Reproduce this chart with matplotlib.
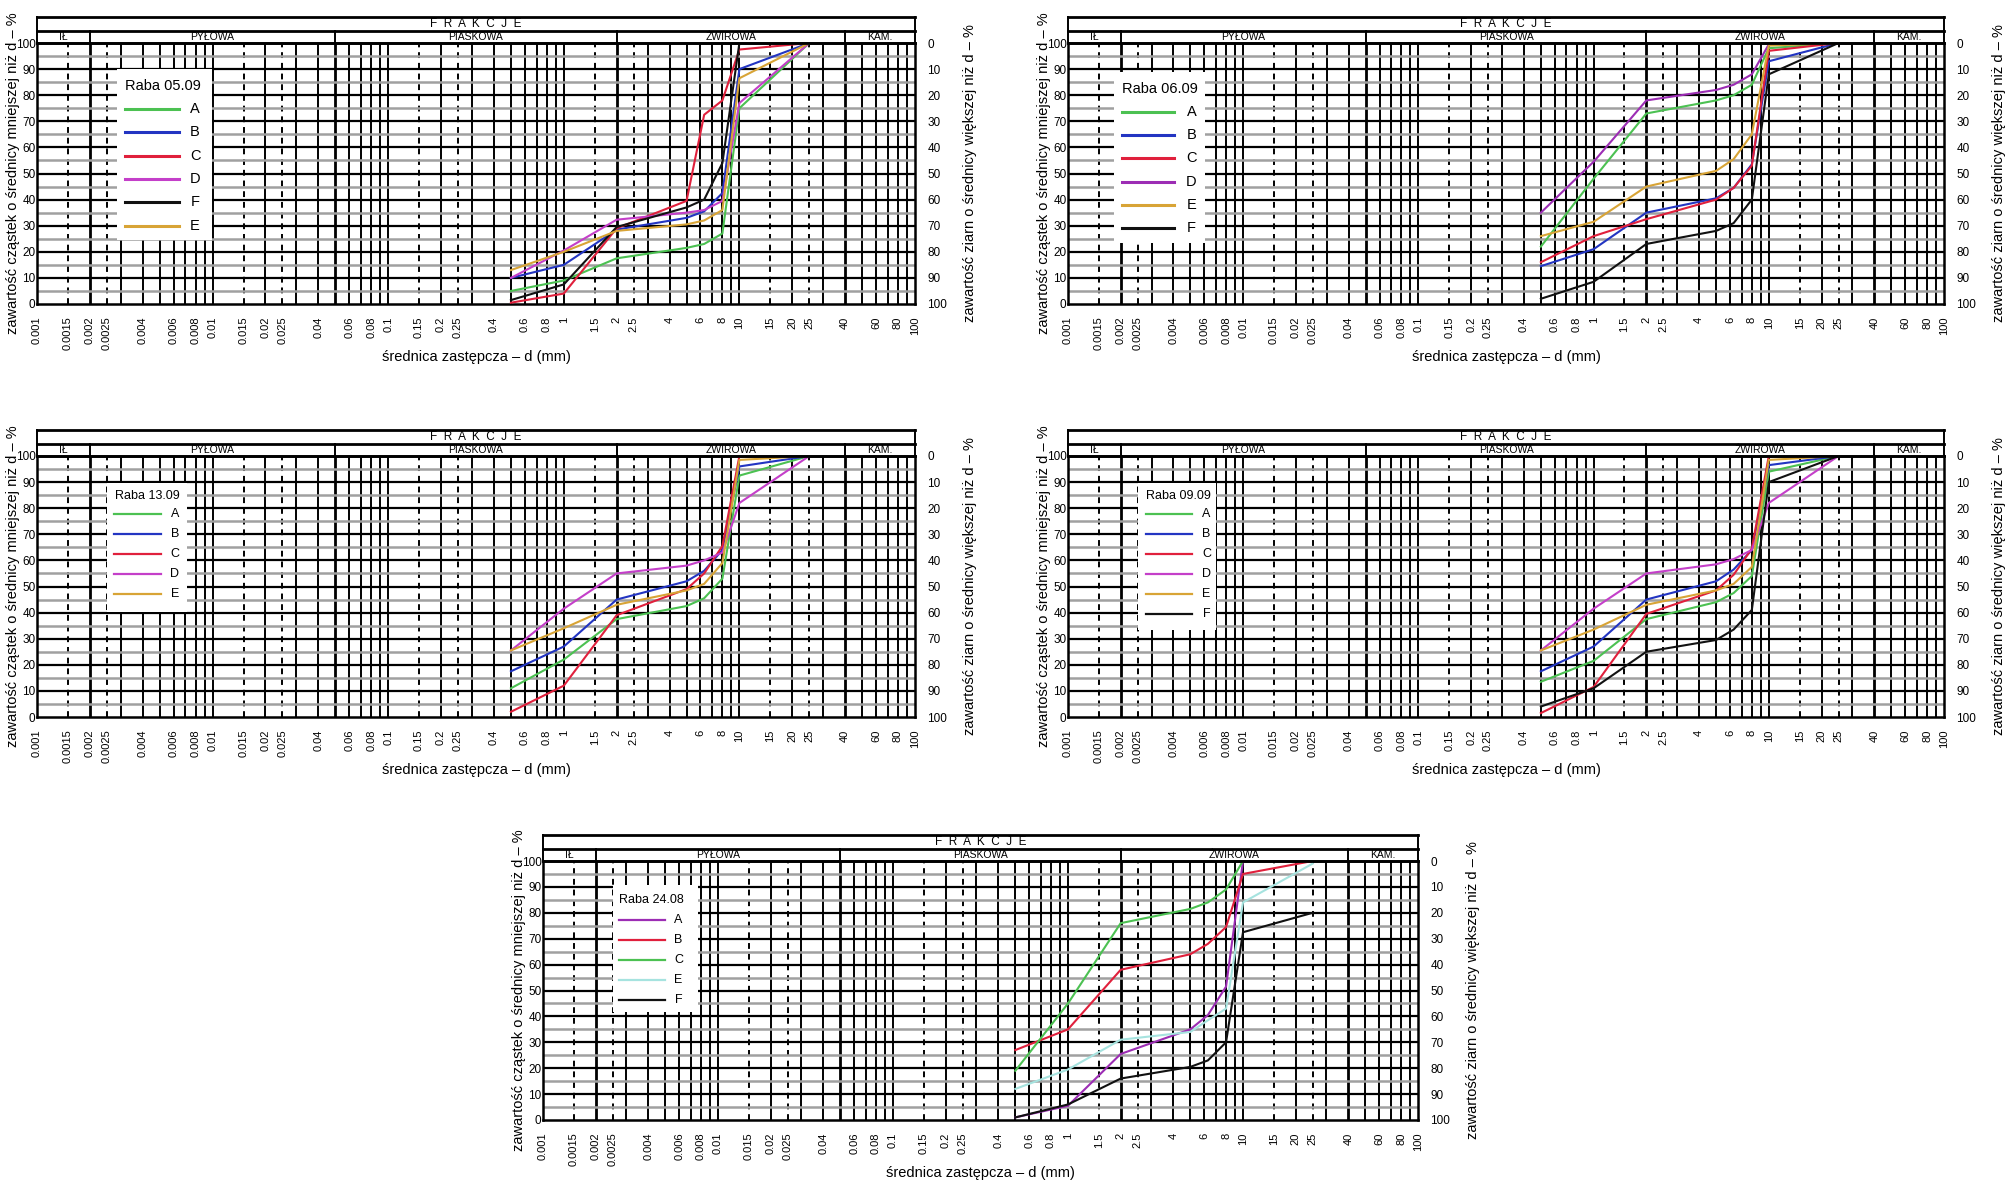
import matplotlib
matplotlib.use('Agg')
import matplotlib.pyplot as plt
from matplotlib.patches import Rectangle
from matplotlib.ticker import NullLocator

plt.rcParams['font.family'] = ['Liberation Sans', 'DejaVu Sans']
TICK_FONT = ['Liberation Sans Narrow', 'Liberation Sans', 'DejaVu Sans']

# sieve sizes (mm) common to all samples
SIEVES = [0.5, 1, 2, 5, 6.3, 8, 10, 25]

# percent passing
raba_0509 = {
    'A': [5, 9, 17.5, 21.5, 23, 27, 75, 100],
    'B': [10, 15, 28.5, 33, 35.5, 42.5, 90, 100],
    'C': [0.5, 4, 29, 39.5, 72.5, 78, 97.5, 100],
    'D': [10, 20.5, 32.3, 35, 36, 39.5, 77, 100],
    'F': [1.5, 7.5, 29.5, 37, 40, 54, 100, 100],
    'E': [13, 20, 28, 30.5, 32, 36, 86.5, 100],
}
raba_0609 = {
    'A': [22, 48, 73, 78, 80, 84, 98, 100],
    'B': [14.5, 21, 35, 40.5, 44.5, 53.5, 93, 100],
    'C': [16, 26, 32.5, 40, 44.5, 53, 97, 100],
    'D': [35, 54.5, 78, 82, 84, 88, 99.5, 100],
    'E': [26, 31.5, 45, 51, 55.5, 65, 99, 100],
    'F': [2, 8.5, 23, 28, 31, 40, 88, 100],
}
raba_1309 = {
    'A': [11, 22, 37.5, 42.5, 45.5, 53, 92.5, 100],
    'B': [17.5, 27, 45, 52, 56, 64, 96, 100],
    'C': [2, 12, 39, 49, 55, 65.5, 100, 100],
    'D': [25.5, 41.5, 55, 58, 60, 63, 82, 100],
    'E': [25.5, 34, 43, 48.5, 51, 59, 98.5, 100],
}
raba_0909 = {
    'A': [13.5, 21.5, 37.5, 44, 47.5, 54, 94, 100],
    'B': [17.5, 27, 45, 52, 56.5, 64, 96.5, 100],
    'C': [1.5, 11.5, 39.5, 48.5, 54.5, 64.5, 100, 100],
    'D': [25.5, 41.5, 55, 58.5, 60.5, 64, 82, 100],
    'E': [25.5, 33.5, 43, 48.5, 51, 57.5, 98.5, 100],
    'F': [4, 11, 25, 29.5, 33.5, 41, 90, 100],
}
raba_2408 = {
    'A': [1, 5.5, 25.5, 35, 40.5, 51.5, 100, 100],
    'B': [27, 35, 58, 64, 68, 74.5, 95, 100],
    'C': [19, 45, 76, 81.5, 84, 89, 100, 100],
    'E': [12, 19.5, 31, 34, 38.5, 43, 84, 99],
    'F': [1, 6, 16, 20.5, 23, 30, 72.5, 80],
}

TICKS = [0.001, 0.0015, 0.002, 0.0025, 0.004, 0.006, 0.008, 0.01, 0.015, 0.02,
         0.025, 0.04, 0.06, 0.08, 0.1, 0.15, 0.2, 0.25, 0.4, 0.6, 0.8, 1, 1.5,
         2, 2.5, 4, 6, 8, 10, 15, 20, 25, 40, 60, 80, 100]
FRACTIONS = [('IŁ', 0.001, 0.002), ('PYŁOWA', 0.002, 0.05),
             ('PIASKOWA', 0.05, 2), ('ŻWIROWA', 2, 40), ('KAM.', 40, 100)]

GREEN, BLUE, RED = '#4cc152', '#2335c2', '#e0203c'
MAGENTA, PURPLE, GOLD = '#c43fc9', '#9c2db4', '#d8a436'
BLACK, CYAN = '#111111', '#a6e3df'

GRID_SOLID = [m * 10.0 ** e for e in range(-3, 2) for m in range(1, 10)]
GRID_DASH = [m * 10.0 ** e for e in range(-3, 2) for m in (1.5, 2.5)]
BOUNDS = [0.002, 0.05, 2, 40]

FIG_W, FIG_H = 2008, 1182
YLAB_L = 'zawartość cząstek o średnicy mniejszej niż d – %'
YLAB_R = 'zawartość ziarn o średnicy większej niż d – %'
XLAB = 'średnica zastępcza – d (mm)'


def px_axes(fig, left, top, width, height):
    return fig.add_axes([left / FIG_W, 1 - (top + height) / FIG_H,
                         width / FIG_W, height / FIG_H])


def draw_header(fig, left, top, width):
    ah = px_axes(fig, left, top - 26, width, 26)
    ah.set_xscale('log')
    ah.set_xlim(0.001, 100)
    ah.set_ylim(0, 26)
    ah.axis('off')
    for y in (0, 12, 26):
        ah.axhline(y, color='k', lw=2.0, clip_on=False)
    for x in (0.001, 100):
        ah.plot([x, x], [0, 26], color='k', lw=1.4, clip_on=False)
    for x in BOUNDS:
        ah.plot([x, x], [0, 12], color='k', lw=1.4)
    ah.text(0.5, 19 / 26, '  '.join('FRAKCJE'), transform=ah.transAxes,
            ha='center', va='center', fontsize=8.5)
    for name, a, b in FRACTIONS:
        ah.text((a * b) ** 0.5, 6, name, ha='center', va='center', fontsize=7.5)


def draw_panel(fig, left, top, width, height, name, data, colors, leg):
    ax = px_axes(fig, left, top, width, height)
    ax.set_xscale('log')
    ax.set_xlim(0.001, 100)
    ax.set_ylim(0, 100)

    for x in GRID_SOLID:
        ax.axvline(x, color='k', lw=2.0 if x in BOUNDS else 1.4, zorder=1)
    for x in GRID_DASH:
        ax.axvline(x, color='k', lw=1.4, ls=(0, (3, 2.5)), zorder=1)
    for y in range(5, 100, 10):
        ax.axhline(y, color='#a0a0a0', lw=1.8, zorder=1)
    for y in range(10, 100, 10):
        ax.axhline(y, color='k', lw=1.6, zorder=1)

    for key, vals in data.items():
        ax.plot(SIEVES, vals, color=colors[key], lw=1.5, zorder=4)

    ax.xaxis.set_minor_locator(NullLocator())
    ax.set_xticks(TICKS)
    ax.set_xticklabels(['{:g}'.format(t) for t in TICKS], rotation=90,
                       family=TICK_FONT, fontsize=8)
    ax.set_yticks(range(0, 101, 10))
    ax.set_yticklabels([str(v) for v in range(0, 101, 10)], family=TICK_FONT,
                       fontsize=8.5)
    ax.tick_params(axis='x', length=0, pad=9)
    ax.tick_params(axis='y', length=0, pad=1)
    for s in ax.spines.values():
        s.set_linewidth(1.8)

    ax2 = ax.twinx()
    ax2.set_ylim(100, 0)
    ax2.set_yticks(range(0, 101, 10))
    ax2.set_yticklabels([str(v) for v in range(0, 101, 10)], family=TICK_FONT,
                        fontsize=8.5)
    ax2.tick_params(length=0, pad=9)
    for s in ax2.spines.values():
        s.set_visible(False)

    ax.text(-24 / width, 0.5, YLAB_L, transform=ax.transAxes, rotation=90,
            ha='center', va='center', fontsize=10.5)
    ax.text(1 + 55 / width, 0.5, YLAB_R, transform=ax.transAxes, rotation=90,
            ha='center', va='center', fontsize=10.5)
    ax.text(0.5, -53 / height, XLAB, transform=ax.transAxes,
            ha='center', va='center', fontsize=10.5)

    # legend drawn as a white box inside the chart
    bx0, bx1, by0, by1 = leg['box']
    ax.add_patch(Rectangle((bx0, by0), bx1 - bx0, by1 - by0, transform=ax.transAxes,
                           facecolor='white', edgecolor='none', zorder=5))
    ax.text(leg['title'][0], leg['title'][1], name, transform=ax.transAxes,
            ha='left', va='center', fontsize=leg['fs'], zorder=6)
    y0, dy = leg['rows']
    for i, key in enumerate(data):
        y = y0 - i * dy
        ax.plot(leg['line'], [y, y], transform=ax.transAxes, color=colors[key],
                lw=leg['lw'], zorder=6, clip_on=False)
        ax.text(leg['label_x'], y, key, transform=ax.transAxes, ha='center',
                va='center', fontsize=leg['fs'], zorder=6)

    draw_header(fig, left, top, width)
    return ax


fig = plt.figure(figsize=(FIG_W / 100, FIG_H / 100), dpi=100)

cols_std = {'A': GREEN, 'B': BLUE, 'C': RED, 'D': MAGENTA, 'E': GOLD, 'F': BLACK}
cols_0609 = dict(cols_std, D=PURPLE)
cols_2408 = {'A': PURPLE, 'B': RED, 'C': GREEN, 'E': CYAN, 'F': BLACK}

draw_panel(fig, 37, 43, 878, 261, 'Raba 05.09', raba_0509, cols_std,
           dict(box=(0.091, 0.199, 0.245, 0.900), title=(0.100, 0.835),
                rows=(0.747, 0.0894), line=(0.100, 0.162), label_x=0.180,
                fs=10.5, lw=2.2))
draw_panel(fig, 1068, 43, 876, 261, 'Raba 06.09', raba_0609, cols_0609,
           dict(box=(0.052, 0.156, 0.234, 0.889), title=(0.0615, 0.824),
                rows=(0.737, 0.0894), line=(0.0615, 0.121), label_x=0.141,
                fs=10.5, lw=2.2))
draw_panel(fig, 37, 456, 878, 261, 'Raba 13.09', raba_1309, cols_std,
           dict(box=(0.080, 0.171, 0.403, 0.898), title=(0.089, 0.848),
                rows=(0.777, 0.0767), line=(0.088, 0.141), label_x=0.157,
                fs=9, lw=1.6))
draw_panel(fig, 1068, 456, 876, 261, 'Raba 09.09', raba_0909, cols_std,
           dict(box=(0.080, 0.169, 0.333, 0.898), title=(0.089, 0.848),
                rows=(0.777, 0.0767), line=(0.089, 0.142), label_x=0.158,
                fs=9, lw=1.6))
draw_panel(fig, 543, 861, 875, 259, 'Raba 24.08', raba_2408, cols_2408,
           dict(box=(0.080, 0.177, 0.418, 0.906), title=(0.087, 0.851),
                rows=(0.774, 0.0778), line=(0.087, 0.139), label_x=0.155,
                fs=9, lw=1.6))

fig.savefig('out.png', dpi=100)
